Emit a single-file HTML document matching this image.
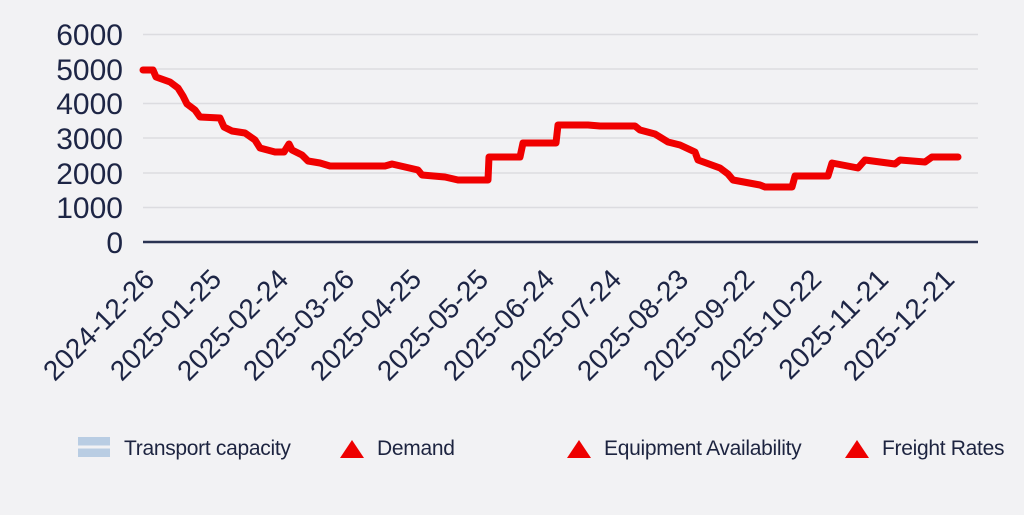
<!DOCTYPE html>
<html><head><meta charset="utf-8"><style>
html,body{margin:0;padding:0;background:#f2f2f4;}
svg{display:block;}
text{font-family:"Liberation Sans",sans-serif;}
.lg{font-size:21px;fill:#1d2440;letter-spacing:-0.3px;}
</style></head><body>
<svg width="1024" height="515" viewBox="0 0 1024 515">
<rect width="1024" height="515" fill="#f2f2f4"/>
<g stroke="#dcdce0" stroke-width="1.5">
<line x1="143" y1="34.5" x2="978" y2="34.5"/>
<line x1="143" y1="69" x2="978" y2="69"/>
<line x1="143" y1="103.5" x2="978" y2="103.5"/>
<line x1="143" y1="138" x2="978" y2="138"/>
<line x1="143" y1="173" x2="978" y2="173"/>
<line x1="143" y1="207.5" x2="978" y2="207.5"/>
</g>
<line x1="143" y1="242" x2="978" y2="242" stroke="#2a3352" stroke-width="2.5"/>
<g font-size="30" fill="#1d2545" text-anchor="end">
<text x="123" y="45">6000</text>
<text x="123" y="80">5000</text>
<text x="123" y="114">4000</text>
<text x="123" y="149">3000</text>
<text x="123" y="184">2000</text>
<text x="123" y="218">1000</text>
<text x="123" y="253">0</text>
</g>
<polyline fill="none" stroke="#f00000" stroke-width="7" stroke-linejoin="round" stroke-linecap="round"
points="143,70 153,70 156,77 170,82 178,88 183,96 187,104 195,110 200,117 220,118 224,127 232,131 245,133 255,140 260,148 275,152 284,152 289,144 292,150 302,155 308,161 320,163 330,166 360,166 385,166 392,164 405,167 418,170 422,175 445,177 458,180 488,180 489,157 520,157 523,143 556,143 558,125 588,125 600,126 635,126 640,130 655,134 668,142 680,145 695,152 698,160 720,168 728,174 733,180 760,185 765,187 792,187 795,176 828,176 832,163 858,168 865,160 895,164 900,160 925,162 932,157 958,157"/>
<g font-size="28" fill="#1d2545" text-anchor="end">
<text transform="translate(156,281) rotate(-45)">2024-12-26</text>
<text transform="translate(223,281) rotate(-45)">2025-01-25</text>
<text transform="translate(290,281) rotate(-45)">2025-02-24</text>
<text transform="translate(356,281) rotate(-45)">2025-03-26</text>
<text transform="translate(423,281) rotate(-45)">2025-04-25</text>
<text transform="translate(490,281) rotate(-45)">2025-05-25</text>
<text transform="translate(556,281) rotate(-45)">2025-06-24</text>
<text transform="translate(623,281) rotate(-45)">2025-07-24</text>
<text transform="translate(690,281) rotate(-45)">2025-08-23</text>
<text transform="translate(756,281) rotate(-45)">2025-09-22</text>
<text transform="translate(823,281) rotate(-45)">2025-10-22</text>
<text transform="translate(890,281) rotate(-45)">2025-11-21</text>
<text transform="translate(956,281) rotate(-45)">2025-12-21</text>
</g>
<rect x="78" y="437" width="32" height="8.5" fill="#b9cde3"/>
<rect x="78" y="448.5" width="32" height="8.5" fill="#b9cde3"/>
<text class="lg" x="124" y="455">Transport capacity</text>
<polygon points="340,458 364,458 352,440" fill="#ee0000"/>
<text class="lg" x="377" y="455">Demand</text>
<polygon points="567,458 591,458 579,440" fill="#ee0000"/>
<text class="lg" x="604" y="455">Equipment Availability</text>
<polygon points="845,458 869,458 857,440" fill="#ee0000"/>
<text class="lg" x="882" y="455">Freight Rates</text>
</svg>
</body></html>
